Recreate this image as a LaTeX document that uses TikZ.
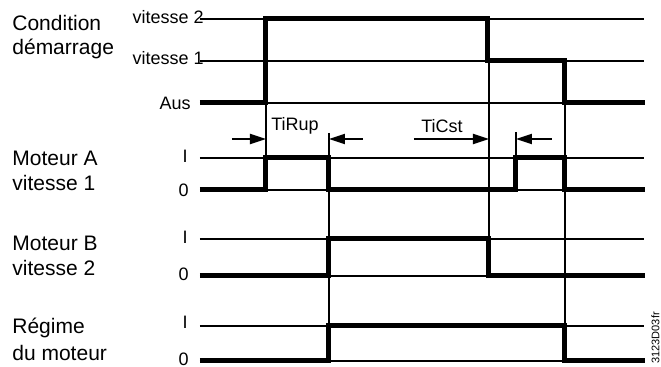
\documentclass[tikz,border=0pt]{standalone}
\usepackage{fontspec}
\setmainfont{Liberation Sans}
\usetikzlibrary{arrows.meta}
\begin{document}
\begin{tikzpicture}[x=0.5pt,y=-0.5pt,
  gridline/.style={line width=1pt},
  sig/.style={line width=2.5pt,line join=miter},
  big/.style={font=\fontsize{10.5}{12.5}\selectfont,anchor=west,align=left,inner sep=0pt},
  small/.style={font=\fontsize{9}{10.5}\selectfont,anchor=east,inner sep=0pt},
  dim/.style={line width=1pt,-{Triangle[length=8pt,width=5pt]}}]
\useasboundingbox (0,0) rectangle (661,367);
% level lines
\foreach \yy in {19,61,103,158,190,239,276,326,361}
  \draw[gridline] (200,\yy) -- (644,\yy);
% left labels
\node[big] (c1) at (12,23) {Condition};
\node[big] (c2) at (12,49) {démarrage};
\node[big] (a1) at (12,158) {Moteur A};
\node[big] (a2) at (12,183) {vitesse 1};
\node[big] (b1) at (12,243) {Moteur B};
\node[big] (b2) at (12,268) {vitesse 2};
\node[big] (r1) at (12,328) {Régime};
\node[big] (r2) at (12,353) {du moteur};
% level labels
\node[small] (v2) at (204,17) {vitesse 2};
\node[small] (v1) at (204,58) {vitesse 1};
\node[small] (aus) at (191,103) {Aus};
\node[small] (ai) at (188,156) {I};
\node[small] (a0) at (189,190) {0};
\node[small] (bi) at (188,237) {I};
\node[small] (b0) at (189,274) {0};
\node[small] (ri) at (188,322) {I};
\node[small] (r0) at (189,359) {0};
% thin vertical markers
\draw[gridline] (266,103) -- (266,190);
\draw[gridline] (329,133) -- (329,361);
\draw[gridline] (489,61) -- (489,276);
\draw[gridline] (516,132) -- (516,158);
\draw[gridline] (565,103) -- (565,361);
% signals
\draw[sig] (200,103) -- (266,103) -- (266,19) -- (488,19) -- (488,61) -- (565,61) -- (565,103) -- (645,103);
\draw[sig] (200,190) -- (266,190) -- (266,158) -- (329,158) -- (329,190) -- (516,190) -- (516,158) -- (565,158) -- (565,190) -- (645,190);
\draw[sig] (200,276) -- (329,276) -- (329,239) -- (489,239) -- (489,276) -- (645,276);
\draw[sig] (200,361) -- (329,361) -- (329,326) -- (565,326) -- (565,361) -- (645,361);
% time dimensions
\coordinate (t1a) at (232,139); \coordinate (t1b) at (266,139);
\coordinate (t2a) at (363,139); \coordinate (t2b) at (329,139);
\coordinate (t3a) at (414,139); \coordinate (t3b) at (489,139);
\coordinate (t4a) at (552,139); \coordinate (t4b) at (516,139);
\draw[dim] (t1a) -- (t1b);
\draw[dim] (t2a) -- (t2b);
\draw[dim] (t3a) -- (t3b);
\draw[dim] (t4a) -- (t4b);
\node[small,anchor=west] (tirup) at (271,126) {TiRup};
\node[small,anchor=west] (ticst) at (421,126) {TiCst};
% figure id
\node[font=\fontsize{5.5}{6.5}\selectfont,rotate=90,anchor=north west,inner sep=0pt] (fid) at (651,364) {3123D03fr};
\end{tikzpicture}
\end{document}
